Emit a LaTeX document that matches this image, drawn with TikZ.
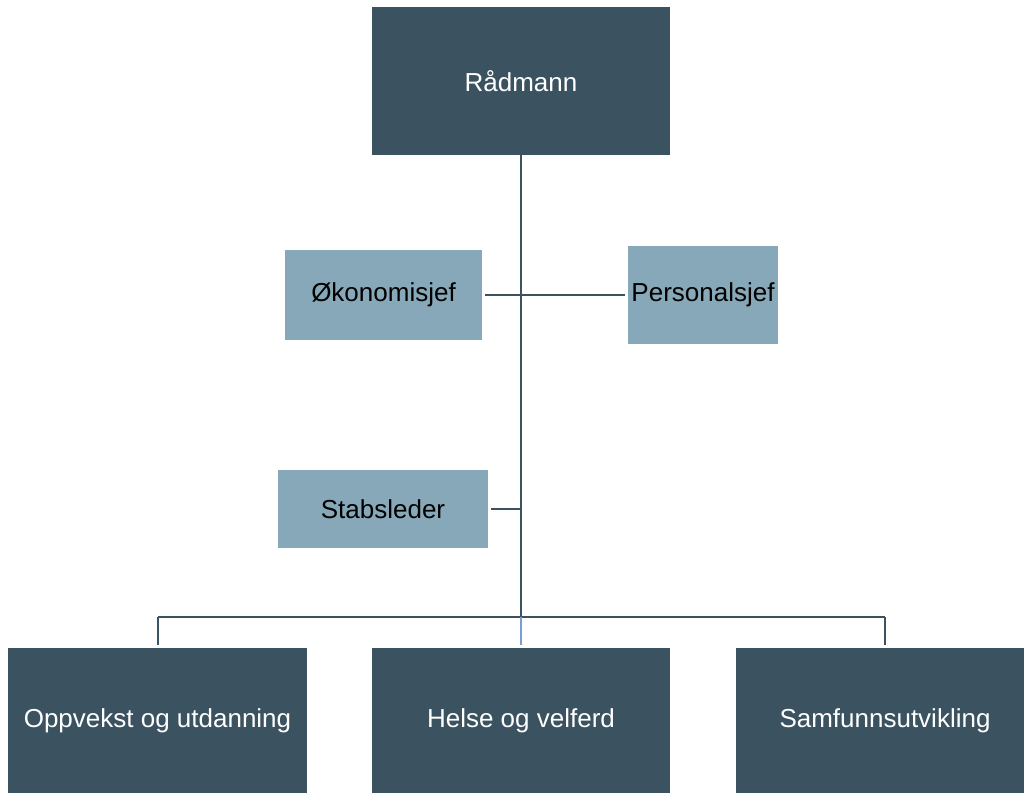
\documentclass[tikz,border=0pt]{standalone}
\usepackage{fontspec}
\setmainfont{Liberation Sans}
\usetikzlibrary{positioning}

\definecolor{darkslate}{HTML}{3B5260}
\definecolor{lightslate}{HTML}{87A8B8}
\definecolor{linkblue}{HTML}{7A9CD8}

\begin{document}
\begin{tikzpicture}[
    x = 0.75pt,
    y = -0.75pt,
    darkbox/.style={
        rectangle,
        fill = darkslate,
        text = white,
        inner sep = 0pt,
        anchor = center,
        font = \fontsize{19.5}{23}\selectfont,
        },
    lightbox/.style={
        rectangle,
        fill = lightslate,
        text = black,
        inner sep = 0pt,
        anchor = center,
        font = \fontsize{19.5}{23}\selectfont,
        },
    link/.style={
        draw = darkslate,
        line width = 1.5pt,
        },
]

\useasboundingbox (0,0) rectangle (1024,793);

% top
\node[darkbox, minimum width = 298*0.75pt, minimum height = 148*0.75pt] (radm) at (521,81) {Rådmann};

% staff
\node[lightbox, minimum width = 197*0.75pt, minimum height = 90*0.75pt] (oko) at (383.5,295) {Økonomisjef};
\node[lightbox, minimum width = 150*0.75pt, minimum height = 98*0.75pt] (pers) at (703,295) {Personalsjef};
\node[lightbox, minimum width = 210*0.75pt, minimum height = 78*0.75pt] (stab) at (383,509) {Stabsleder};

% sectors
\node[darkbox, minimum width = 299*0.75pt, minimum height = 145*0.75pt] (opp) at (157.5,720.5) {Oppvekst og utdanning};
\node[darkbox, minimum width = 298*0.75pt, minimum height = 145*0.75pt] (helse) at (521,720.5) {Helse og velferd};
\node[darkbox, minimum width = 298*0.75pt, minimum height = 145*0.75pt] (samf) at (885,720.5) {Samfunnsutvikling};

\coordinate (bus) at (521,617);

\draw[link] (radm.south) -- (bus);
\draw[link] ([xshift=2.25pt]oko.east) -- ([xshift=-2.25pt]pers.west);
\draw[link] ([xshift=2.25pt]stab.east) -- (stab.east -| radm.south);

\draw[link] (opp.north |- bus) -- (samf.north |- bus);
\draw[link, shorten >=2.25pt] (opp.north |- bus) -- (opp.north);
\draw[link, shorten >=2.25pt] (samf.north |- bus) -- (samf.north);
\draw[link, draw=linkblue, line width=1pt, shorten >=2.25pt] (bus) -- (helse.north);

\end{tikzpicture}
\end{document}
